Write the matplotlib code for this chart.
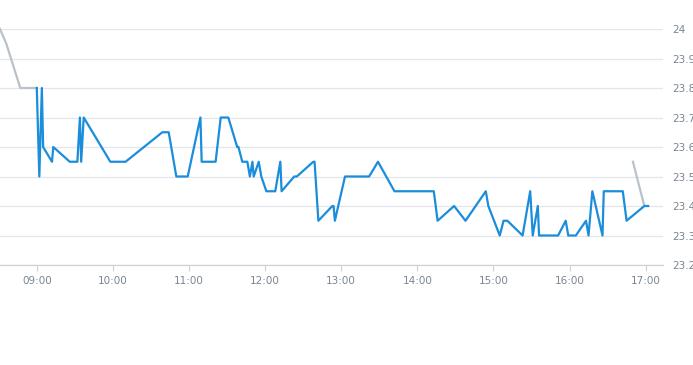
import matplotlib
matplotlib.use("Agg")
import matplotlib.pyplot as plt

# session prices (blue)
times = ["09:00", "09:02", "09:04", "09:05", "09:12", "09:13", "09:26", "09:32",
         "09:34", "09:35", "09:37", "09:58", "10:10", "10:39", "10:44", "10:50",
         "10:59", "11:09", "11:10", "11:21", "11:25", "11:31", "11:38", "11:39",
         "11:42", "11:46", "11:48", "11:50", "11:51", "11:55", "11:57", "12:01",
         "12:08", "12:12", "12:13", "12:23", "12:25", "12:38", "12:39", "12:42",
         "12:53", "12:54", "12:55", "13:03", "13:22", "13:29", "13:42", "14:13",
         "14:16", "14:29", "14:38", "14:54", "14:56", "15:05", "15:08", "15:11",
         "15:23", "15:29", "15:31", "15:35", "15:36", "15:51", "15:57", "15:59",
         "16:05", "16:13", "16:15", "16:18", "16:26", "16:27", "16:42", "16:45",
         "16:59", "17:02"]
prices = [23.8, 23.5, 23.8, 23.6, 23.55, 23.6, 23.55, 23.55,
          23.7, 23.55, 23.7, 23.55, 23.55, 23.65, 23.65, 23.5,
          23.5, 23.7, 23.55, 23.55, 23.7, 23.7, 23.6, 23.6,
          23.55, 23.55, 23.5, 23.55, 23.5, 23.55, 23.5, 23.45,
          23.45, 23.55, 23.45, 23.5, 23.5, 23.55, 23.55, 23.35,
          23.4, 23.4, 23.35, 23.5, 23.5, 23.55, 23.45, 23.45,
          23.35, 23.4, 23.35, 23.45, 23.4, 23.3, 23.35, 23.35,
          23.3, 23.45, 23.3, 23.4, 23.3, 23.3, 23.35, 23.3,
          23.3, 23.35, 23.3, 23.45, 23.3, 23.45, 23.45, 23.35,
          23.4, 23.4]

# pre / post session (gray)
pre_times = ["08:31", "08:36", "08:47", "09:00"]
pre_prices = [24.0, 23.95, 23.8, 23.8]
post_times = ["16:50", "16:59"]
post_prices = [23.55, 23.4]

hour_labels = ["09:00", "10:00", "11:00", "12:00", "13:00", "14:00", "15:00", "16:00", "17:00"]
y_ticks = [23.2, 23.3, 23.4, 23.5, 23.6, 23.7, 23.8, 23.9, 24.0]
y_labels = ["23.2", "23.3", "23.4", "23.5", "23.6", "23.7", "23.8", "23.9", "24"]


def to_min(s):
    h, m = s.split(":")
    return int(h) * 60 + int(m)


fig = plt.figure(figsize=(6.93, 3.65), dpi=100)
ax = fig.add_axes([0.0, 100 / 365, 663 / 693, 236 / 365])

txt = "#7a8591"
ax.plot([to_min(t) for t in pre_times], pre_prices, color="#b9c2cb", lw=1.6, clip_on=False)
ax.plot([to_min(t) for t in post_times], post_prices, color="#b9c2cb", lw=1.6, clip_on=False)
ax.plot([to_min(t) for t in times], prices, color="#1a8ddb", lw=1.6, clip_on=False)

ax.set_xlim(to_min("08:31"), 1033.7)
ax.set_ylim(23.2, 24.0)

ax.set_yticks(y_ticks)
ax.set_yticklabels(y_labels)
ax.yaxis.tick_right()
ax.tick_params(axis="y", length=0, pad=7, labelsize=7.5, labelcolor=txt)

ax.set_xticks([to_min(t) for t in hour_labels])
ax.set_xticklabels(hour_labels)
ax.tick_params(axis="x", length=4, width=0.8, color="#ccd3da", pad=4,
               labelsize=7.5, labelcolor=txt)

ax.grid(axis="y", color="#e3e6ea", lw=0.9)
ax.set_axisbelow(True)
for s in ["top", "left", "right"]:
    ax.spines[s].set_visible(False)
ax.spines["bottom"].set_color("#ccd3da")
ax.spines["bottom"].set_linewidth(0.9)

plt.savefig("out.png", dpi=100)
